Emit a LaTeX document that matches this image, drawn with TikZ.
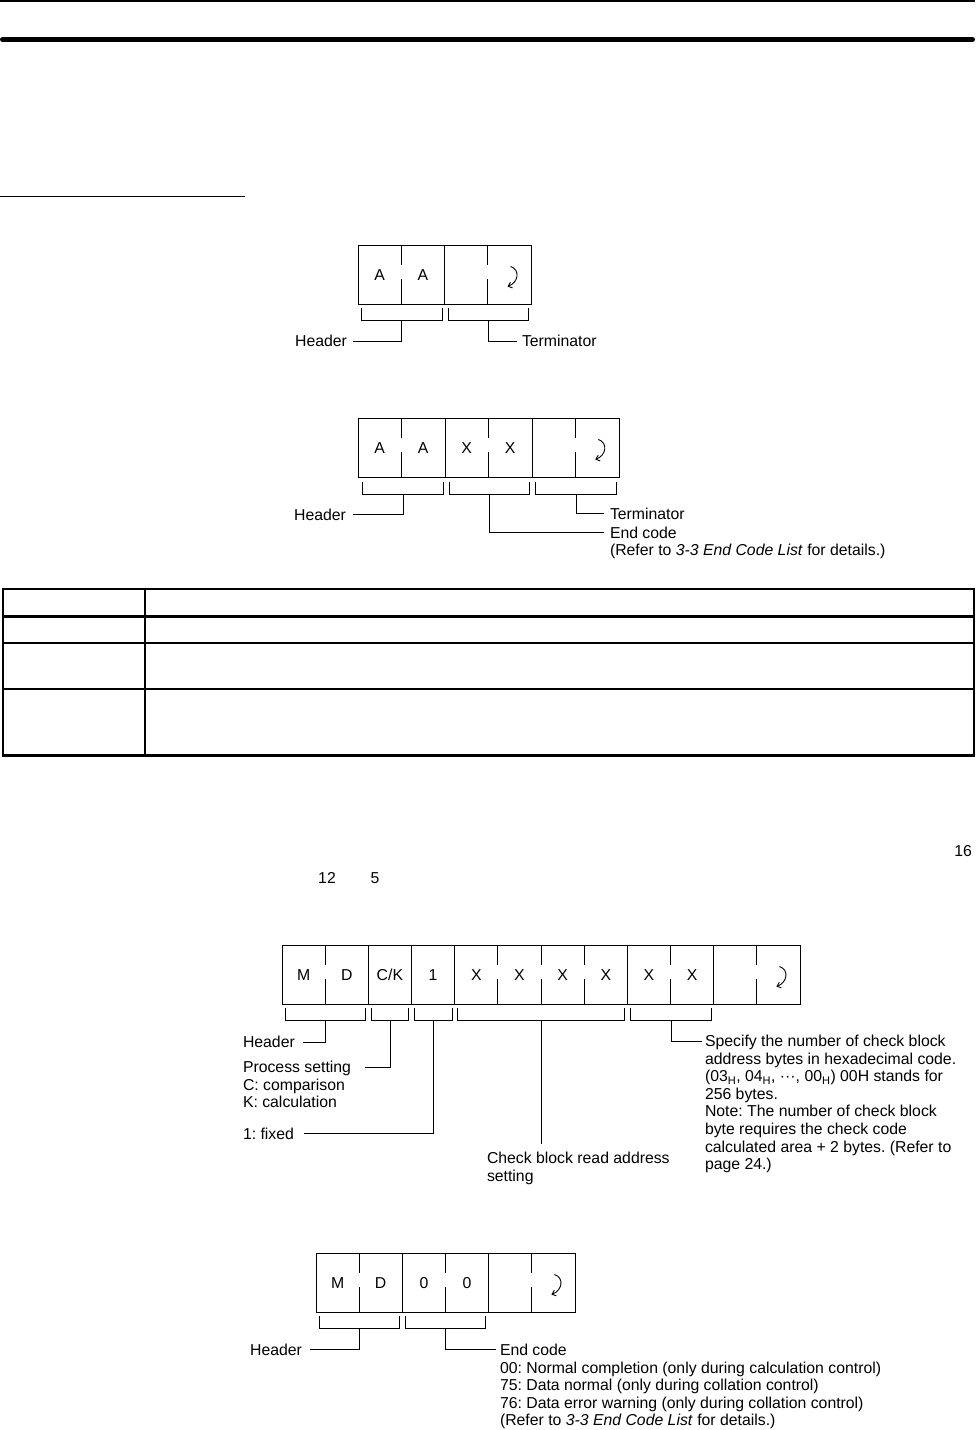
\documentclass[tikz,border=0pt]{standalone}
\usepackage{fontspec}
\setmainfont{Liberation Sans}
\usetikzlibrary{arrows.meta,calc}
\frenchspacing
\newcommand\pdiv[2]{\draw[ln] (#1,#2) -- ++(0,20) ++(0,14) -- ++(0,25);}
\newcommand\fdiv[2]{\draw[ln] (#1,#2) -- ++(0,59);}
\newcommand\brk[3]{\draw[ln] (#1,#3) -- ++(0,12) -| (#2,#3);}
\newcommand\retsym[1]{\draw[retarrow] ($(#1)+(1,-8)$) .. controls ($(#1)+(11,-5)$) and ($(#1)+(9,8)$) .. ($(#1)+(-2,12)$);}
\begin{document}
\begin{tikzpicture}[x=1pt,y=-1pt,
  every node/.style={inner sep=0pt, outer sep=0pt, font=\fontsize{15.8}{17.6}\selectfont},
  frame/.style={draw, line width=1pt, minimum height=59pt},
  ln/.style={line width=1pt},
  lbl/.style={anchor=base west, align=left},
  lblr/.style={anchor=base east},
  ch/.style={anchor=base},
  retarrow/.style={line width=0.9pt, -{Straight Barb[length=3.5pt,width=6pt]}},
]
\useasboundingbox (0,0) rectangle (975,1430);

% page rules
\draw[line width=2.5pt] (0,1.2) -- (975,1.2);
\draw[line width=5pt, line cap=round] (2.5,39.5) -- (972.5,39.5);
\draw[line width=1.3pt] (0,196.5) -- (245,196.5);

% ---------- Diagram 1 ----------
\node[frame, minimum width=173pt] (b1) at (444.5,274.5) {};
\pdiv{401.25}{245}
\fdiv{444.5}{245}
\pdiv{487.75}{245}
\node[ch] (c1a) at (379.6,280) {A};
\node[ch] (c1b) at (422.9,280) {A};
\coordinate (r1) at (509.5,274.5);
\retsym{r1}
\brk{361.5}{442}{308}
\brk{448}{528}{308}
\coordinate (k1h) at (401.5,320);
\coordinate (k1t) at (488,320);
\node[lblr] (h1) at (347,346.5) {Header};
\node[lbl] (t1) at (522,346.5) {Terminator};
\draw[ln] (k1h) |- ($(h1.base east)+(6,-5.5)$);
\draw[ln] (k1t) |- ($(t1.base west)+(-5,-5.5)$);

% ---------- Diagram 2 ----------
\node[frame, minimum width=261pt] (b2) at (488.5,447.5) {};
\pdiv{401.5}{418}
\fdiv{445}{418}
\pdiv{488.5}{418}
\fdiv{532}{418}
\pdiv{575.5}{418}
\node[ch] (c2a) at (379.75,453) {A};
\node[ch] (c2b) at (423.25,453) {A};
\node[ch] (c2c) at (466.75,453) {X};
\node[ch] (c2d) at (510.25,453) {X};
\coordinate (r2) at (597.25,447.5);
\retsym{r2}
\brk{362.3}{443.3}{482}
\brk{449.3}{529.3}{482}
\brk{535.7}{616.7}{482}
\coordinate (k2h) at (403.3,494);
\coordinate (k2e) at (489.3,494);
\coordinate (k2t) at (576,494);
\node[lblr] (h2) at (346,520) {Header};
\node[lbl] (t2) at (610,519) {Terminator};
\node[lbl] (e2) at (610,555.6) {End code\\(Refer to \textit{3-3 End Code List} for details.)};
\draw[ln] (k2h) |- ($(h2.base east)+(6.5,-5.5)$);
\draw[ln] (k2t) |- ($(t2.base west)+(-6,-5.5)$);
\draw[ln] (k2e) |- ($(e2.base west)+(-6,-23.1)$);

% ---------- Table ----------
\draw[line width=1.5pt] (2,589) -- (974,589);
\draw[line width=3pt] (2,616) -- (974,616);
\draw[line width=1.5pt] (2,643) -- (974,643);
\draw[line width=1.5pt] (2,689) -- (974,689);
\draw[line width=3pt] (2,755) -- (974,755);
\draw[line width=2pt] (2.5,588.3) -- (2.5,756.5);
\draw[line width=2pt] (973.5,588.3) -- (973.5,756.5);
\draw[line width=1.5pt] (145,589) -- (145,755);

% ---------- loose numbers ----------
\node[anchor=base east] (n16) at (972,856.5) {16};
\node[anchor=base] (n12) at (327,883.5) {12};
\node[anchor=base] (n5) at (375,883.5) {5};

% ---------- Diagram 3 ----------
\node[frame, minimum width=518pt] (b3) at (541,974.5) {};
\pdiv{325.2}{945}
\fdiv{368.3}{945}
\fdiv{411.5}{945}
\fdiv{454.7}{945}
\pdiv{497.8}{945}
\pdiv{541}{945}
\pdiv{584.2}{945}
\fdiv{627.3}{945}
\pdiv{670.5}{945}
\fdiv{713.7}{945}
\pdiv{756.8}{945}
\node[ch] (c3a) at (303.6,980) {M};
\node[ch] (c3b) at (346.8,980) {D};
\node[ch] (c3c) at (389.9,980) {C/K};
\node[ch] (c3d) at (433.1,980) {1};
\node[ch] (c3e) at (476.3,980) {X};
\node[ch] (c3f) at (519.4,980) {X};
\node[ch] (c3g) at (562.6,980) {X};
\node[ch] (c3h) at (605.8,980) {X};
\node[ch] (c3i) at (648.9,980) {X};
\node[ch] (c3j) at (692.1,980) {X};
\coordinate (r3) at (778.4,974.5);
\retsym{r3}
\brk{285}{365}{1008}
\brk{371}{408}{1008}
\brk{414}{452}{1008}
\brk{457.5}{624.5}{1008}
\brk{630.5}{711}{1008}
\coordinate (k3h) at (325,1020);
\coordinate (k3p) at (390.5,1020);
\coordinate (k3f) at (433,1020);
\coordinate (k3c) at (541,1020);
\coordinate (k3s) at (671,1020);
\node[lbl] (h3) at (243,1047.5) {Header};
\node[lbl] (p3) at (243,1107.7) {Process setting\\C: comparison\\K: calculation};
\node[lbl] (f3) at (243,1139) {1: fixed};
\node[lbl] (cb3) at (487,1181.1) {Check block read address\\setting};
\node[lbl] (s3) at (705,1169.7) {Specify the number of check block\\address bytes in hexadecimal code.\\(03\textsubscript{H}, 04\textsubscript{H}, ···, 00\textsubscript{H}) 00H stands for\\256 bytes.\\Note: The number of check block\\byte requires the check code\\calculated area + 2 bytes. (Refer to\\page 24.)};
\draw[ln] (k3h) |- ($(h3.base east)+(8,-5.5)$);
\draw[ln] (k3p) |- ($(p3.base west)+(122,-40.7)$);
\draw[ln] (k3f) |- ($(f3.base east)+(10,-5.5)$);
\draw[ln] (k3c) -- ($(k3c |- cb3.base)+(0,-37)$);
\draw[ln] (k3s) |- ($(s3.base west)+(-3,-128.7)$);

% ---------- Diagram 4 ----------
\node[frame, minimum width=259pt] (b4) at (445.5,1282.5) {};
\pdiv{359.2}{1253}
\fdiv{402.3}{1253}
\pdiv{445.5}{1253}
\fdiv{488.7}{1253}
\pdiv{531.8}{1253}
\node[ch] (c4a) at (337.6,1288) {M};
\node[ch] (c4b) at (380.7,1288) {D};
\node[ch] (c4c) at (423.9,1288) {0};
\node[ch] (c4d) at (467.1,1288) {0};
\coordinate (r4) at (553.4,1282.5);
\retsym{r4}
\brk{319.3}{399.3}{1316}
\brk{405.7}{485.7}{1316}
\coordinate (k4h) at (359.3,1328);
\coordinate (k4e) at (445.7,1328);
\node[lblr] (h4) at (302,1355.5) {Header};
\node[lbl] (e4) at (500,1425.9) {End code\\00: Normal completion (only during calculation control)\\75: Data normal (only during collation control)\\76: Data error warning (only during collation control)\\(Refer to \textit{3-3 End Code List} for details.)};
\draw[ln] (k4h) |- ($(h4.base east)+(8,-6.5)$);
\draw[ln] (k4e) |- ($(e4.base west)+(-4,-76.9)$);
\end{tikzpicture}
\end{document}
